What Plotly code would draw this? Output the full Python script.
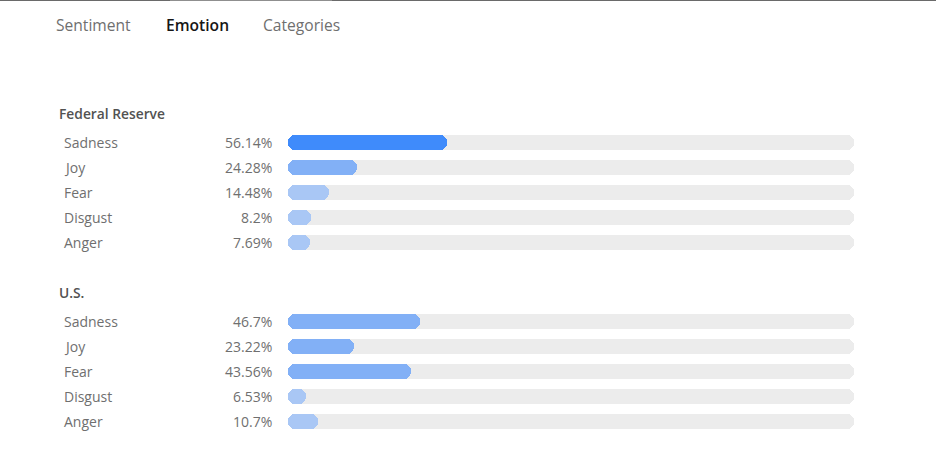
import plotly.graph_objects as go

# ---- data ----
tabs = ["Sentiment", "Emotion", "Categories"]
active_tab = "Emotion"
groups = ["Federal Reserve", "U.S."]
emotions = ["Sadness", "Joy", "Fear", "Disgust", "Anger"]
fed_values = [56.14, 24.28, 14.48, 8.2, 7.69]
us_values = [46.7, 23.22, 43.56, 6.53, 10.7]
scale_max = 200

# ---- layout constants (pixels) ----
W, H = 936, 453
FONT = "Open Sans"
tab_x = [54, 164, 261]
tab_y = 25
group_top = [113, 292]
row_offset = 29.5
row_step = 25
bar_thick = 15
label_x = 62
value_right = 274
track_left, track_right = 288, 854

DARK = "#3f8bfb"
MID = "#82b0f6"
LIGHT = "#a9c7f5"
TRACK = "#ececec"


def color_for(v):
    if v >= 50:
        return DARK
    if v >= 20:
        return MID
    return LIGHT


all_values = [fed_values, us_values]
ys, vals, cols = [], [], []
annotations = []
for gi, (g, values) in enumerate(zip(groups, all_values)):
    annotations.append(dict(x=57 / W, xref="paper", xanchor="left", y=group_top[gi], yref="y",
                            yanchor="middle", text=g, showarrow=False,
                            font=dict(family=FONT, size=13.8, color="#525252", weight=600)))
    for i, (e, v) in enumerate(zip(emotions, values)):
        y = group_top[gi] + row_offset + row_step * i
        ys.append(y)
        vals.append(v)
        cols.append(color_for(v))
        annotations.append(dict(x=label_x / W, xref="paper", xanchor="left", y=y, yref="y",
                                yanchor="middle", text=e, showarrow=False,
                                font=dict(family=FONT, size=14, color="#6f6f6f")))
        annotations.append(dict(x=value_right / W, xref="paper", xanchor="right", y=y, yref="y",
                                yanchor="middle", text=f"{v}%", showarrow=False,
                                font=dict(family=FONT, size=14, color="#6f6f6f")))

for t, x in zip(tabs, tab_x):
    active = t == active_tab
    annotations.append(dict(x=x / W, xref="paper", xanchor="left", y=tab_y, yref="y",
                            yanchor="middle", text=t, showarrow=False,
                            font=dict(family=FONT, size=15.6, color="#161616" if active else "#6f6f6f",
                                      weight=600 if active else 400)))

fig = go.Figure()
common = dict(orientation="h", width=bar_thick, hoverinfo="skip", showlegend=False)
fig.add_trace(go.Bar(y=ys, x=[scale_max] * len(ys), base=[0] * len(ys),
                     marker=dict(color=TRACK, cornerradius=7.5, line=dict(width=0)), **common))
fig.add_trace(go.Bar(y=ys, x=vals, base=[0] * len(ys),
                     marker=dict(color=cols, cornerradius=7.5, line=dict(width=0)), **common))

shapes = [
    dict(type="line", xref="paper", yref="paper", x0=0, x1=170 / W, y0=1 - 0.5 / H, y1=1 - 0.5 / H,
         line=dict(color="#6a6a6a", width=1)),
    dict(type="line", xref="paper", yref="paper", x0=170 / W, x1=332 / W, y0=1 - 0.5 / H, y1=1 - 0.5 / H,
         line=dict(color="#8f8f8f", width=1)),
    dict(type="line", xref="paper", yref="paper", x0=332 / W, x1=1, y0=1 - 0.5 / H, y1=1 - 0.5 / H,
         line=dict(color="#6a6a6a", width=1)),
]

fig.update_layout(
    width=W, height=H, margin=dict(l=0, r=0, t=0, b=0),
    paper_bgcolor="white", plot_bgcolor="white",
    barmode="overlay", bargap=0,
    xaxis=dict(range=[0, scale_max], domain=[track_left / W, track_right / W],
               visible=False, fixedrange=True),
    yaxis=dict(range=[H, 0], domain=[0, 1], visible=False, fixedrange=True),
    annotations=annotations, shapes=shapes,
    font=dict(family=FONT),
)

fig.write_html("out.html", config={"displayModeBar": False},
               post_script="document.body.style.margin='0';document.body.style.overflow='hidden';")
